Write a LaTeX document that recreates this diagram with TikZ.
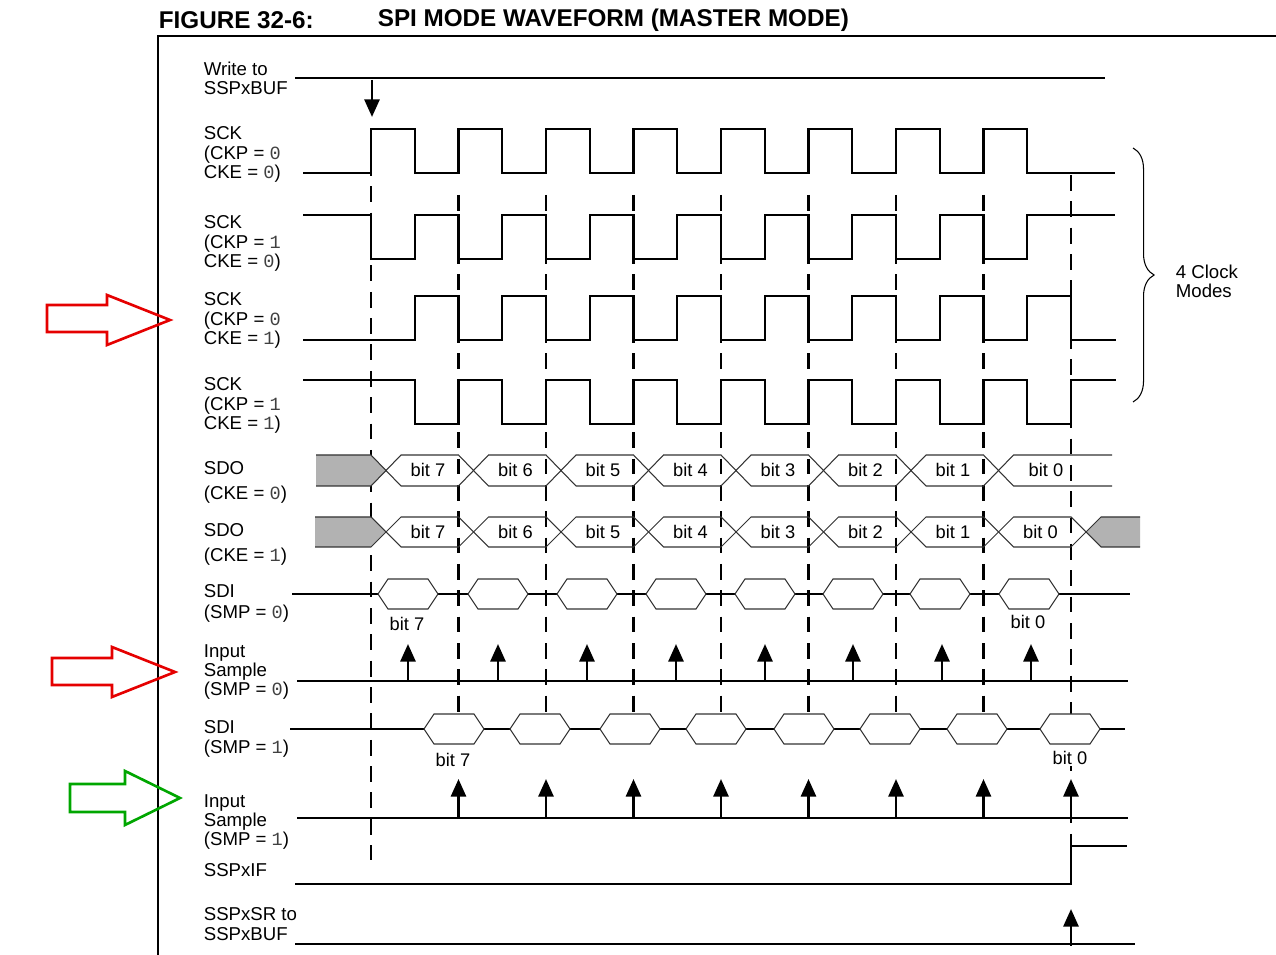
\documentclass[tikz,border=0pt]{standalone}
\usepackage{fontspec}
\setmainfont{Liberation Sans}
\newfontfamily\digitfont{Liberation Mono}
\usetikzlibrary{arrows.meta, positioning, decorations.pathreplacing}

\newcommand{\bitv}[1]{{\digitfont\color{black!75}#1}}

\begin{document}
\begin{tikzpicture}[x=0.02cm, y=-0.02cm, line width=1pt]
\tikzstyle{lbl}=[anchor=north west, inner sep=0pt, align=left, font=\fontsize{10.6}{10.9}\selectfont]
\tikzstyle{bitlbl}=[inner sep=1pt, font=\fontsize{10.4}{10.4}\selectfont]
\tikzstyle{wave}=[line width=1.3pt, line join=miter]
\tikzstyle{bus}=[line width=0.6pt, draw=black!80]
\tikzstyle{grid}=[line width=1.3pt, dash pattern=on 9pt off 6pt]
\tikzstyle{sample}=[line width=1.6pt, -{Triangle[length=10pt,width=8.5pt]}]
\tikzstyle{blockarrow}=[line width=1.5pt, line join=miter]

\useasboundingbox (0,0) rectangle (1276,955);

% Title and frame
\node[anchor=west, inner sep=0pt, font=\bfseries\fontsize{13.8}{14}\selectfont] (fig) at (158,20) {FIGURE 32-6:};
\node[anchor=west, inner sep=0pt, font=\bfseries\fontsize{13.8}{14}\selectfont] (title) at (377,20) {SPI MODE WAVEFORM (MASTER MODE)};
\draw[line width=0.8pt] (1276,36) -- (158,36) -- (158,955);

% Signal names
\node[lbl] (l-wr)   at (203,61)  {Write to\\SSPxBUF};
\node[lbl] (l-sck1) at (203,126) {SCK\\(CKP = \bitv{0}\\CKE = \bitv{0})};
\node[lbl] (l-sck2) at (203,215) {SCK\\(CKP = \bitv{1}\\CKE = \bitv{0})};
\node[lbl] (l-sck3) at (203,292) {SCK\\(CKP = \bitv{0}\\CKE = \bitv{1})};
\node[lbl] (l-sck4) at (203,377) {SCK\\(CKP = \bitv{1}\\CKE = \bitv{1})};
\node[lbl] (l-sdo0) at (203,461) {SDO\\[3pt](CKE = \bitv{0})};
\node[lbl] (l-sdo1) at (203,523) {SDO\\[3pt](CKE = \bitv{1})};
\node[lbl] (l-sdi0) at (203,584) {SDI\\[1pt](SMP = \bitv{0})};
\node[lbl] (l-in0)  at (203,644) {Input\\Sample\\(SMP = \bitv{0})};
\node[lbl] (l-sdi1) at (203,720) {SDI\\(SMP = \bitv{1})};
\node[lbl] (l-in1)  at (203,794) {Input\\Sample\\(SMP = \bitv{1})};
\node[lbl] (l-if)   at (203,863) {SSPxIF};
\node[lbl] (l-sr)   at (203,907) {SSPxSR to\\SSPxBUF};

% Edge grid
\draw[grid] (371,160) -- (371,860);
\foreach \k in {1,...,7}
  \draw[grid] (371+87.5*\k,195) -- (371+87.5*\k,720);
\draw[grid] (1071,175) -- (1071,845);

% Write to SSPxBUF
\draw[wave] (295,78) -- (1105,78);
\draw[sample] (372,80) -- (372,117);

% Clock modes
\draw[wave] (303,173) -- (371,173)
  \foreach \k in {0,...,7} { -- (371+87.5*\k,129) -- (414.75+87.5*\k,129) -- (414.75+87.5*\k,173) -- (458.5+87.5*\k,173) } -- (1115,173);
\draw[wave] (303,215) -- (371,215)
  \foreach \k in {0,...,7} { -- (371+87.5*\k,259) -- (414.75+87.5*\k,259) -- (414.75+87.5*\k,215) -- (458.5+87.5*\k,215) } -- (1115,215);
\draw[wave] (303,340) -- (414.75,340)
  \foreach \k in {0,...,7} { -- (414.75+87.5*\k,296) -- (458.5+87.5*\k,296) -- (458.5+87.5*\k,340) -- (502.25+87.5*\k,340) } -- (1115,340);
\draw[wave] (303,380) -- (414.75,380)
  \foreach \k in {0,...,7} { -- (414.75+87.5*\k,424) -- (458.5+87.5*\k,424) -- (458.5+87.5*\k,380) -- (502.25+87.5*\k,380) } -- (1115,380);

% Brace
\draw[decorate, decoration={brace, amplitude=12pt}, line width=0.6pt] (1133,148) -- (1133,402);
\node[lbl] (clk) at (1175,264) {4 Clock\\Modes};

% SDO (CKE = 0)
\fill[black!30] (316,455) -- (371,455) -- (386,470.5) -- (371,486) -- (316,486) -- cycle;
\draw[bus] (316,455) -- (371,455) -- (386,470.5) -- (371,486) -- (316,486);
\foreach \k/\b in {0/7,1/6,2/5,3/4,4/3,5/2,6/1} {
  \draw[bus] (386+87.5*\k,470.5) -- (401+87.5*\k,455) -- (458.5+87.5*\k,455) -- (473.5+87.5*\k,470.5) -- (458.5+87.5*\k,486) -- (401+87.5*\k,486) -- cycle;
  \node[bitlbl] (sdo0-\b) at (428+87.5*\k,470) {bit \b};
}
\draw[bus] (1112,455) -- (1013.5,455) -- (998.5,470.5) -- (1013.5,486) -- (1112,486);
\node[bitlbl] (sdo0-0) at (1046,470) {bit 0};

% SDO (CKE = 1)
\fill[black!30] (315,517) -- (371,517) -- (386,532) -- (371,547) -- (315,547) -- cycle;
\draw[bus] (315,517) -- (371,517) -- (386,532) -- (371,547) -- (315,547);
\foreach \k/\b in {0/7,1/6,2/5,3/4,4/3,5/2,6/1,7/0} {
  \draw[bus] (386+87.5*\k,532) -- (401+87.5*\k,517) -- (458.5+87.5*\k,517) -- (473.5+87.5*\k,532) -- (458.5+87.5*\k,547) -- (401+87.5*\k,547) -- cycle;
  \node[bitlbl] (sdo1-\b) at (428+87.5*\k,531.5) {bit \b};
}
\fill[black!30] (1086,532) -- (1101,517) -- (1140,517) -- (1140,547) -- (1101,547) -- cycle;
\draw[bus] (1140,517) -- (1101,517) -- (1086,532) -- (1101,547) -- (1140,547);

% SDI (SMP = 0)
\draw[wave] (292,594) -- (1130,594);
\foreach \c in {408,498,587,676,765,853,940,1029}
  \filldraw[bus, fill=white] (\c-30,594) -- (\c-20,579) -- (\c+20,579) -- (\c+30,594) -- (\c+20,609) -- (\c-20,609) -- cycle;
\node[bitlbl] (sdi0-7) at (407,624) {bit 7};
\node[bitlbl, fill=white] (sdi0-0) at (1028,622) {bit 0};

% Input Sample (SMP = 0)
\draw[wave] (297,681) -- (1128,681);
\foreach \c in {408,498,587,676,765,853,942,1031}
  \draw[sample] (\c,681) -- (\c,644);

% SDI (SMP = 1)
\draw[wave] (290,729) -- (1125,729);
\foreach \c in {454,540,630,716,804,890,977,1070}
  \filldraw[bus, fill=white] (\c-30,729) -- (\c-20,714) -- (\c+20,714) -- (\c+30,729) -- (\c+20,744) -- (\c-20,744) -- cycle;
\node[bitlbl] (sdi1-7) at (453,760) {bit 7};
\node[bitlbl, fill=white] (sdi1-0) at (1070,758) {bit 0};

% Input Sample (SMP = 1)
\draw[wave] (297,818) -- (1128,818);
\foreach \k in {1,...,8}
  \draw[sample] (371+87.5*\k,818) -- (371+87.5*\k,779);

% SSPxIF
\draw[wave] (295,884) -- (1071,884) -- (1071,846) -- (1127,846);

% SSPxSR to SSPxBUF
\draw[wave] (295,944) -- (1135,944);
\draw[sample] (1071,946) -- (1071,909);

% Pointer arrows
\draw[blockarrow, red!90!black] (47,305) -- (107,305) -- (107,295) -- (170,320) -- (107,345) -- (107,332) -- (47,332) -- cycle;
\draw[blockarrow, red!90!black] (52,658) -- (112,658) -- (112,647) -- (175,672) -- (112,697) -- (112,685) -- (52,685) -- cycle;
\draw[blockarrow, green!65!black] (70,784) -- (125,784) -- (125,771) -- (180,798) -- (125,825) -- (125,812) -- (70,812) -- cycle;
\end{tikzpicture}
\end{document}
